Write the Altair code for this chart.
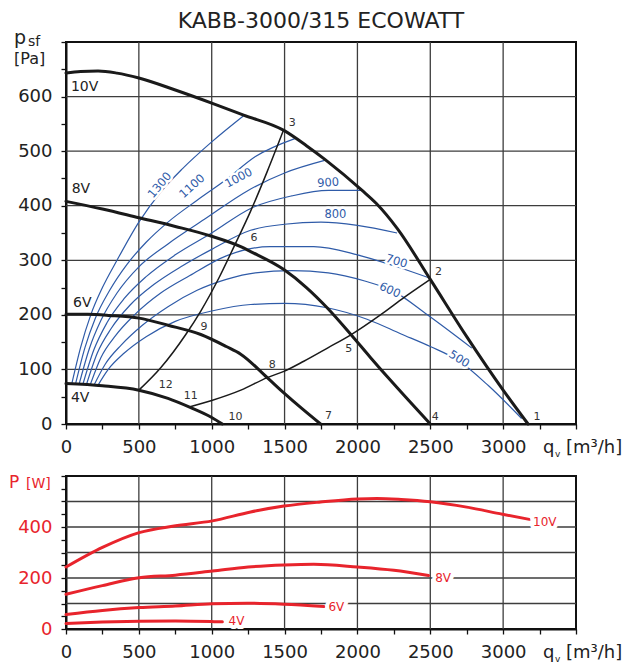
import altair as alt
import pandas as pd

FONT = "DejaVu Sans"
INK = "#222222"
GRID = "#3d3d3d"
BLUE = "#2f5ba8"
RED = "#e8242c"
BLACK = "#1a1a1a"

TITLE = "KABB-3000/315 ECOWATT"

# ---------------- top chart: pressure curves (q m3/h, p Pa) ----------------
fan_names = ["10V", "8V", "6V", "4V"]
q_10v = [0, 100, 220, 350, 500, 750, 1000, 1219, 1495, 1650, 1781, 2032, 2130, 2274, 2500, 2750, 3000, 3171]
p_10v = [643, 646, 647, 643, 634, 612, 588, 566, 538, 510, 484, 428, 404, 358, 265, 160, 62, 0]
q_8v = [0, 250, 500, 750, 1000, 1199, 1267, 1495, 1650, 1792, 1952, 2089, 2247, 2500]
p_8v = [408, 394, 378, 362, 344, 325, 316, 283, 250, 213, 165, 122, 74, 0]
q_6v = [0, 150, 300, 502, 700, 925, 1100, 1199, 1381, 1495, 1620, 1747]
p_6v = [201, 201, 199, 194, 181, 164, 142, 128, 85, 57, 28, 0]
q_4v = [0, 250, 500, 700, 856, 1000, 1073]
p_4v = [74, 70, 62, 47, 30, 12, 0]

# system lines
sys_names = ["A", "B"]
sysA_q = [500, 650, 822, 925, 1050, 1153, 1267, 1380, 1495]
sysA_p = [62, 103, 164, 207, 268, 325, 390, 462, 540]
sysB_q = [845, 1000, 1200, 1381, 1500, 1632, 1800, 1952, 2158, 2300, 2500]
sysB_p = [31, 43, 62, 85, 97, 115, 140, 163, 200, 228, 265]

# blue speed lines
rpm_names = ["1300", "1100", "1000", "900", "800", "700", "600", "500"]
rpm_q = [
    [40, 100, 170, 250, 350, 500, 650, 800, 1000, 1219],
    [65, 130, 200, 300, 420, 550, 700, 900, 1100, 1300, 1570],
    [90, 160, 240, 350, 500, 700, 950, 1250, 1500, 1775],
    [115, 190, 280, 400, 550, 750, 1000, 1267, 1550, 1800, 2034],
    [140, 215, 310, 440, 600, 800, 1000, 1267, 1500, 1750, 2000, 2272],
    [165, 240, 340, 470, 650, 850, 1100, 1400, 1700, 2000, 2250, 2490],
    [190, 270, 380, 520, 700, 900, 1100, 1300, 1550, 1800, 2050, 2250, 2480, 2785],
    [215, 290, 400, 550, 750, 1000, 1267, 1500, 1792, 2066, 2300, 2500, 2700, 2900, 3127],
]
rpm_p = [
    [74, 140, 200, 250, 300, 370, 425, 468, 517, 565],
    [73, 140, 193, 245, 293, 333, 370, 410, 448, 490, 523],
    [73, 138, 190, 240, 288, 330, 375, 428, 460, 483],
    [72, 135, 185, 230, 270, 310, 350, 395, 418, 428, 428],
    [72, 130, 175, 218, 255, 290, 320, 355, 366, 370, 364, 350],
    [71, 122, 162, 200, 240, 272, 308, 325, 325, 310, 290, 268],
    [70, 110, 145, 180, 215, 245, 265, 277, 281, 277, 262, 243, 200, 139],
    [69, 100, 130, 160, 188, 207, 219, 221, 213, 192, 165, 142, 115, 70, 10],
]
rpm_lab_q = [646, 868, 1187, 1799, 1849, 2267, 2221, 2696]
rpm_lab_p = [437, 435, 450, 441, 383, 297, 244, 118]
rpm_lab_angle = [310, 318, 332, 356, 0, 17, 24, 32]

pt_text = ["1", "2", "3", "4", "5", "6", "7", "8", "9", "10", "11", "12"]
pt_q = [3233, 2557, 1553, 2534, 1941, 1290, 1801, 1415, 947, 1164, 856, 685]
pt_p = [13, 278, 551, 13, 137, 340, 15, 108, 177, 13, 51, 71]

fan_lab_q = [34, 39, 48, 34]
fan_lab_p = [618, 430, 221, 48]

grid_p = [100, 200, 300, 400, 500, 600]
grid_q = [500, 1000, 1500, 2000, 2500, 3000]

# ---------------- bottom chart: power (W) ----------------
q_w10 = [0, 250, 502, 742, 1005, 1267, 1495, 1747, 2000, 2134, 2300, 2500, 2750, 2995, 3180]
w_10 = [243, 320, 378, 404, 424, 459, 482, 498, 510, 512, 508, 499, 478, 450, 430]
q_w8 = [0, 250, 502, 750, 1005, 1250, 1495, 1700, 2000, 2250, 2488]
w_8 = [136, 170, 201, 211, 227, 243, 251, 254, 243, 230, 210]
q_w6 = [0, 250, 502, 750, 1005, 1244, 1495, 1770]
w_6 = [57, 73, 84, 90, 99, 101, 97, 88]
q_w4 = [0, 250, 502, 750, 1000, 1073]
w_4 = [22, 27, 30, 31, 29, 28]
pow_lab_q = [3205, 2534, 1801, 1116]
pow_lab_w = [420, 200, 88, 31]
grid_w = [100, 200, 300, 400, 500]


def series_df(names, qs, vs):
    rows = []
    for n, q, v in zip(names, qs, vs):
        for a, b in zip(q, v):
            rows.append({"s": n, "q": a, "v": b})
    return pd.DataFrame(rows)


W, H1, H2 = 510, 382, 153
xs = alt.Scale(domain=[0, 3500], nice=False, zero=False)
ys1 = alt.Scale(domain=[0, 700], nice=False, zero=False)
ys2 = alt.Scale(domain=[0, 600], nice=False, zero=False)

axis_common = dict(title=None, grid=False, ticks=True, tickSize=5, tickWidth=1.3,
                   tickColor="#111", domainColor="#111", domainWidth=2,
                   labelFontSize=18, labelFont=FONT, labelPadding=9,
                   labelFlush=False, labelOverlap=False, format="d")
x_axis = alt.Axis(values=list(range(0, 3501, 250)),
                  labelExpr="(datum.value % 500 == 0 && datum.value < 3500) ? datum.label : ''",
                  labelColor=INK, **axis_common)
y_axis1 = alt.Axis(values=list(range(0, 701, 50)),
                   labelExpr="(datum.value % 100 == 0 && datum.value < 700) ? datum.label : ''",
                   labelColor=INK, **axis_common)
y_axis2 = alt.Axis(values=list(range(0, 601, 50)),
                   labelExpr="(datum.value % 200 == 0 && datum.value <= 400) ? datum.label : ''",
                   labelColor=RED, **axis_common)


def X(field="q"):
    return alt.X(f"{field}:Q", scale=xs, axis=x_axis)


def Y1(field="v"):
    return alt.Y(f"{field}:Q", scale=ys1, axis=y_axis1)


def Y2(field="v"):
    return alt.Y(f"{field}:Q", scale=ys2, axis=y_axis2)


def note(txt, x, y, size, color, align="left"):
    return alt.Chart(pd.DataFrame({"t": [txt]})).mark_text(
        align=align, baseline="alphabetic", fontSize=size, font=FONT, color=color
    ).encode(text="t:N", x=alt.value(x), y=alt.value(y))


def qv_label(h):
    return [note("q", 477, h + 29, 18, INK), note("v", 489, h + 33, 9, INK),
            note("[m³/h]", 500, h + 29, 18, INK)]


# ---- top layers
g_h1 = alt.Chart(pd.DataFrame({"v": grid_p})).mark_rule(color=GRID, strokeWidth=1.3).encode(y=Y1())
g_v1 = alt.Chart(pd.DataFrame({"q": grid_q})).mark_rule(color=GRID, strokeWidth=1.3).encode(x=X())

blue = alt.Chart(series_df(rpm_names, rpm_q, rpm_p)).mark_line(
    color=BLUE, strokeWidth=1.2, interpolate="monotone").encode(x=X(), y=Y1(), detail="s:N")

rpm_lab = pd.DataFrame({"t": rpm_names, "q": rpm_lab_q, "v": rpm_lab_p, "a": rpm_lab_angle})
rpm_base = alt.Chart(rpm_lab).encode(x=X(), y=Y1(), text="t:N", angle=alt.Angle("a:Q", scale=None))
rpm_halo = rpm_base.mark_text(font=FONT, fontSize=11.5, fill="white", stroke="white",
                              strokeWidth=5, strokeJoin="round")
rpm_txt = rpm_base.mark_text(font=FONT, fontSize=11.5, color=BLUE)

sysl = alt.Chart(series_df(sys_names, [sysA_q, sysB_q], [sysA_p, sysB_p])).mark_line(
    color=BLACK, strokeWidth=1.5, interpolate="monotone").encode(x=X(), y=Y1(), detail="s:N")
fans = alt.Chart(series_df(fan_names, [q_10v, q_8v, q_6v, q_4v], [p_10v, p_8v, p_6v, p_4v])).mark_line(
    color=BLACK, strokeWidth=3, interpolate="monotone", strokeCap="round").encode(
    x=X(), y=Y1(), detail="s:N")

pts = alt.Chart(pd.DataFrame({"t": pt_text, "q": pt_q, "v": pt_p})).mark_text(
    font=FONT, fontSize=11, color="#333").encode(x=X(), y=Y1(), text="t:N")
fan_lab = alt.Chart(pd.DataFrame({"t": fan_names, "q": fan_lab_q, "v": fan_lab_p})).mark_text(
    font=FONT, fontSize=14, color=INK, align="left").encode(x=X(), y=Y1(), text="t:N")

top = alt.layer(
    g_h1, g_v1, blue, rpm_halo, rpm_txt, sysl, fans, pts, fan_lab,
    note("p", -52, 2, 19, INK), note("sf", -38, 4, 14, INK), note("[Pa]", -52, 22, 16, INK),
    *qv_label(H1)
).properties(
    width=W, height=H1,
    title=alt.TitleParams(TITLE, fontSize=22, font=FONT, fontWeight="normal", color=INK,
                          anchor="middle", offset=-4)
)

# ---- bottom layers
g_h2 = alt.Chart(pd.DataFrame({"v": grid_w})).mark_rule(color=GRID, strokeWidth=1.3).encode(y=Y2())
g_v2 = alt.Chart(pd.DataFrame({"q": grid_q})).mark_rule(color=GRID, strokeWidth=1.3).encode(x=X())
pw = alt.Chart(series_df(fan_names, [q_w10, q_w8, q_w6, q_w4], [w_10, w_8, w_6, w_4])).mark_line(
    color=RED, strokeWidth=3, interpolate="monotone", strokeCap="round").encode(
    x=X(), y=Y2(), detail="s:N")
pw_base = alt.Chart(pd.DataFrame({"t": fan_names, "q": pow_lab_q, "v": pow_lab_w})).encode(
    x=X(), y=Y2(), text="t:N")
pw_halo = pw_base.mark_text(font=FONT, fontSize=12, align="left", fill="white", stroke="white",
                            strokeWidth=8, strokeJoin="round")
pw_txt = pw_base.mark_text(font=FONT, fontSize=12, align="left", color=RED)

bottom = alt.layer(
    g_h2, g_v2, pw, pw_halo, pw_txt,
    note("P", -57, 12, 17, RED), note("[W]", -40, 12, 14, RED),
    *qv_label(H2)
).properties(width=W, height=H2)

chart = alt.vconcat(top, bottom, spacing=52, bounds="flush").properties(
    padding={"left": 8, "top": 9, "right": 2, "bottom": 2}
).configure_view(stroke="#111", strokeWidth=2)

chart.save("out.html", embed_options={"renderer": "svg", "actions": False})
